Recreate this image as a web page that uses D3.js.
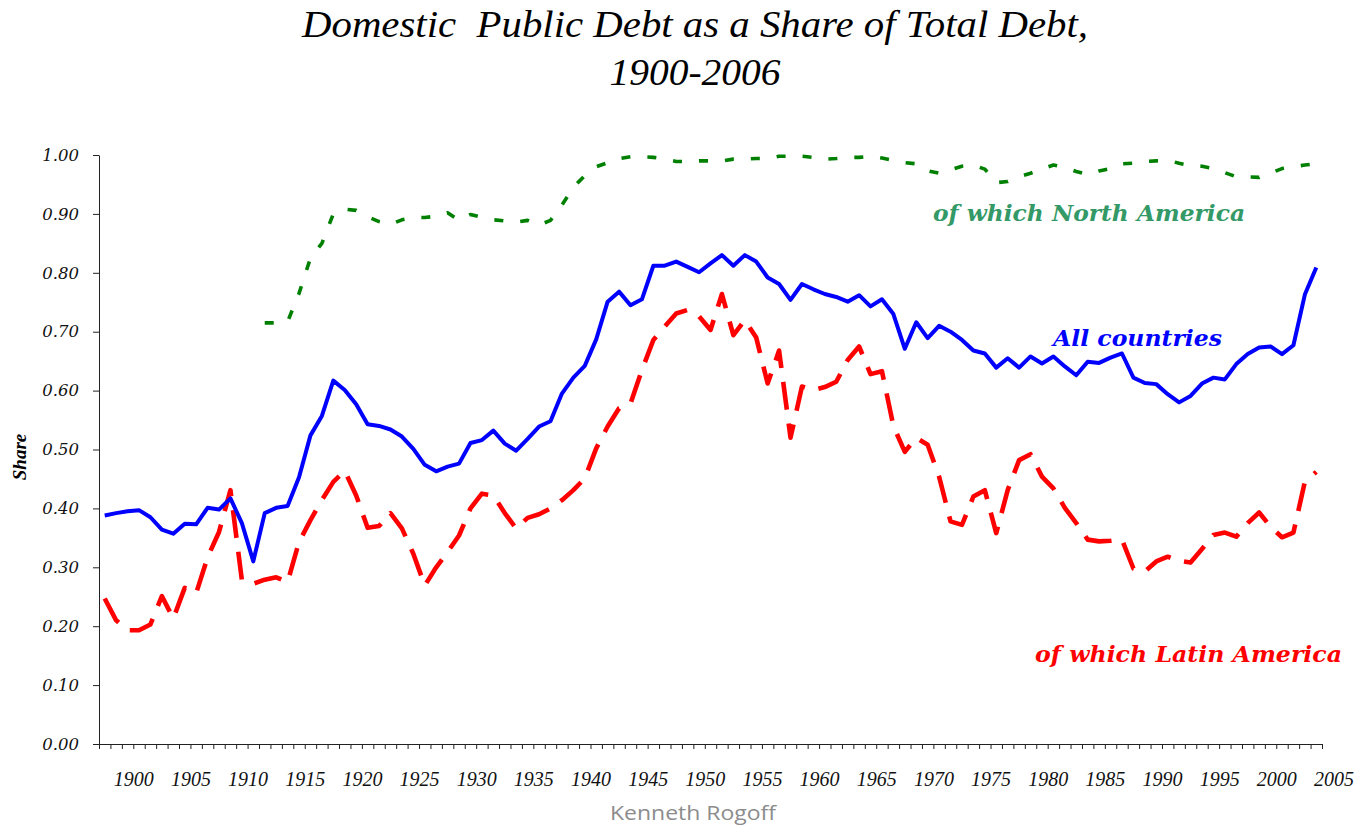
<!DOCTYPE html>
<html><head><meta charset="utf-8">
<script src="https://cdn.jsdelivr.net/npm/d3@7"></script>
<style>html,body{margin:0;padding:0;background:#fff;overflow:hidden}</style>
</head><body><svg id="chart" width="1358" height="827"></svg>
<script>
const years = d3.range(1900, 2007);
const allCountries = [
0.388,0.392,0.395,0.397,0.385,0.364,0.357,0.374,0.373,0.401,
0.398,0.417,0.375,0.310,0.392,0.401,0.404,0.453,0.524,0.557,
0.617,0.601,0.577,0.543,0.540,0.534,0.522,0.501,0.474,0.463,
0.471,0.476,0.511,0.516,0.532,0.510,0.498,0.518,0.539,0.548,
0.595,0.622,0.642,0.687,0.751,0.768,0.745,0.755,0.812,0.812,
0.819,0.810,0.801,0.816,0.830,0.812,0.830,0.819,0.792,0.781,
0.754,0.781,0.772,0.764,0.759,0.751,0.762,0.743,0.755,0.730,
0.671,0.716,0.689,0.710,0.700,0.686,0.668,0.663,0.639,0.655,
0.639,0.658,0.646,0.658,0.641,0.626,0.649,0.647,0.656,0.663,
0.622,0.613,0.611,0.594,0.580,0.591,0.612,0.622,0.619,0.645,
0.662,0.673,0.675,0.662,0.677,0.763,0.809];
const latinAmerica = [
0.247,0.210,0.193,0.193,0.203,0.251,0.213,0.265,0.256,0.317,
0.360,0.431,0.278,0.272,0.279,0.283,0.275,0.343,0.380,0.414,
0.445,0.464,0.422,0.367,0.370,0.392,0.366,0.323,0.269,0.300,
0.326,0.354,0.400,0.425,0.422,0.392,0.366,0.384,0.390,0.400,
0.414,0.431,0.451,0.502,0.539,0.570,0.578,0.635,0.686,0.709,
0.731,0.737,0.726,0.703,0.764,0.694,0.720,0.690,0.612,0.668,
0.520,0.607,0.601,0.606,0.615,0.652,0.675,0.628,0.633,0.540,
0.496,0.520,0.508,0.454,0.378,0.372,0.420,0.431,0.358,0.431,
0.482,0.492,0.454,0.434,0.401,0.375,0.347,0.344,0.345,0.347,
0.298,0.293,0.310,0.318,0.311,0.308,0.331,0.355,0.359,0.352,
0.375,0.393,0.369,0.351,0.359,0.445,0.462];
const northAmerica = [
null,null,null,null,null,null,null,null,null,null,
null,null,null,null,0.715,0.715,0.717,0.765,0.825,0.850,
0.900,0.908,0.906,0.895,0.887,0.882,0.890,0.894,0.894,0.896,
0.902,0.889,0.899,0.894,0.890,0.888,0.886,0.889,0.881,0.889,
0.915,0.945,0.965,0.980,0.987,0.994,0.997,0.997,0.996,0.993,
0.989,0.989,0.990,0.990,0.990,0.993,0.993,0.994,0.994,0.998,
0.998,0.998,0.996,0.993,0.994,0.996,0.996,0.998,0.995,0.991,
0.987,0.985,0.973,0.969,0.975,0.981,0.983,0.976,0.953,0.955,
0.963,0.969,0.976,0.983,0.979,0.972,0.967,0.973,0.977,0.985,
0.986,0.989,0.990,0.991,0.986,0.982,0.981,0.977,0.970,0.963,
0.963,0.962,0.969,0.977,0.980,0.983,0.985];
const yTicks = [0,0.1,0.2,0.3,0.4,0.5,0.6,0.7,0.8,0.9,1.0];
const xLabelYears = [1900,1905,1910,1915,1920,1925,1930,1935,1940,1945,1950,1955,1960,1965,1970,1975,1980,1985,1990,1995,2000,2005];
const titleLines = ["Domestic  Public Debt as a Share of Total Debt,", "1900-2006"];

const svg = d3.select("#chart");
svg.append("rect").attr("width",1358).attr("height",827).attr("fill","#fff");

const x = d3.scaleLinear().domain([1899.5, 2006.5]).range([99, 1322]);
const y = d3.scaleLinear().domain([0, 1]).range([744, 155]);

// Y axis
const yAxis = svg.append("g").attr("transform","translate(99,0)")
  .call(d3.axisLeft(y).tickValues(yTicks).tickSize(6).tickSizeOuter(0).tickPadding(14).tickFormat(d3.format(".2f")));
yAxis.selectAll("path,line").attr("stroke","#222").attr("stroke-width",1);
yAxis.selectAll("text").attr("font-family","'DejaVu Serif'").attr("font-style","italic")
  .attr("font-size",16.5).attr("fill","#111");

// X axis ticks (category boundaries)
const boundaries = years.map(d => d - 0.5).concat([years[years.length-1] + 0.5]);
const xAxis = svg.append("g").attr("transform","translate(0,744)")
  .call(d3.axisBottom(x).tickValues(boundaries).tickSize(5).tickSizeOuter(0).tickFormat(""));
xAxis.selectAll("path,line").attr("stroke","#222").attr("stroke-width",1);

// X labels
const xLab = svg.append("g").attr("transform","translate(0,744)")
  .call(d3.axisBottom(x).tickValues(xLabelYears.map(d => d + 2.5)).tickSize(0).tickPadding(28).tickFormat(d => d - 2.5));
xLab.select(".domain").remove();
xLab.selectAll("text").attr("font-family","'Liberation Serif'").attr("font-style","italic")
  .attr("font-size",20).attr("fill","#111");

// Lines
const line = d3.line().defined(d => d.v != null).x(d => x(d.year)).y(d => y(d.v));
const series = [
  {vals: northAmerica, color:"#008000", width:3.6, dash:"9,17"},
  {vals: latinAmerica, color:"#FF0000", width:4.6, dash:"28,14"},
  {vals: allCountries, color:"#0000FF", width:4, dash:null}
];
series.forEach(s => {
  svg.append("path")
    .datum(years.map((yr,i) => ({year:yr, v:s.vals[i]})))
    .attr("d", line).attr("fill","none").attr("stroke", s.color)
    .attr("stroke-width", s.width).attr("stroke-linejoin","round")
    .attr("stroke-dasharray", s.dash);
});

// Title
titleLines.forEach((t,i) => {
  svg.append("text").attr("x",695).attr("y", i===0 ? 37 : 85)
    .attr("text-anchor","middle").style("white-space","pre")
    .attr("font-family","'Liberation Serif'").attr("font-style","italic")
    .attr("font-size",37).attr("fill","#000")
    .attr("textLength", i===0 ? 786 : 171).attr("lengthAdjust","spacingAndGlyphs")
    .text(t);
});

// Y axis title
svg.append("text").attr("transform","translate(26,457) rotate(-90)")
  .attr("text-anchor","middle").attr("font-family","'Liberation Serif'")
  .attr("font-style","italic").attr("font-weight","bold").attr("font-size",19)
  .attr("fill","#000").text("Share");

// Series labels
const labels = [
  {text:"of which North America", x:933, y:221, len:312, color:"#339966"},
  {text:"All countries", x:1053, y:346, len:169, color:"#0000FF"},
  {text:"of which Latin America", x:1035, y:662, len:307, color:"#FF0000"}
];
labels.forEach(l => {
  svg.append("text").attr("x",l.x).attr("y",l.y)
    .attr("font-family","'DejaVu Serif'").attr("font-style","italic").attr("font-weight","bold")
    .attr("font-size",22).attr("fill",l.color)
    .attr("textLength",l.len).attr("lengthAdjust","spacingAndGlyphs").text(l.text);
});

// Footer
svg.append("text").attr("x",693).attr("y",820).attr("text-anchor","middle")
  .attr("font-family","'Open Sans'").attr("font-size",20).attr("fill","#8c8c8c")
  .attr("textLength",166).attr("lengthAdjust","spacingAndGlyphs").text("Kenneth Rogoff");
</script>
</body></html>
